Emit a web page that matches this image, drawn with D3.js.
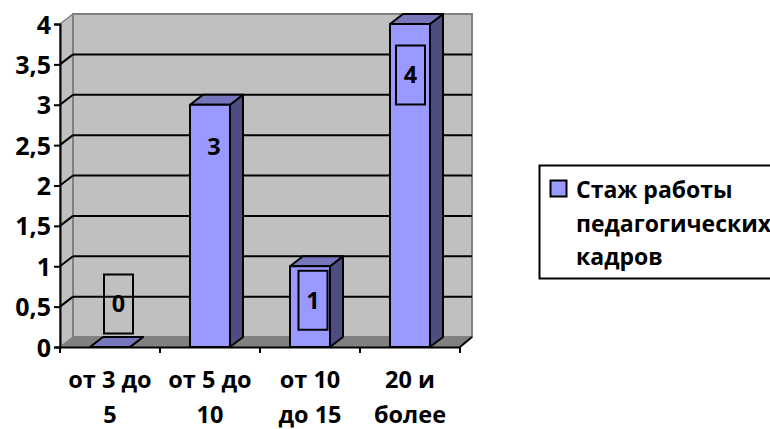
<!DOCTYPE html>
<html>
<head>
<meta charset="utf-8">
<script src="https://cdn.jsdelivr.net/npm/d3@7"></script>
<style>
  html, body { margin: 0; padding: 0; background: #fff; overflow: hidden; }
  text { font-family: "Open Sans", sans-serif; font-weight: 700; fill: #000; }
</style>
</head>
<body>
<div id="viz-body"></div>
<script>
// data
const categories = ["от 3 до 5", "от 5 до 10", "от 10 до 15", "20 и более"];
const categoryLines = [["от 3 до", "5"], ["от 5 до", "10"], ["от 10", "до 15"], ["20 и", "более"]];
const values = [0, 3, 1, 4];
const yTicks = [0, 0.5, 1, 1.5, 2, 2.5, 3, 3.5, 4];
const seriesName = ["Стаж работы", "педагогических", "кадров"];

// layout of the pseudo 3d box
const width = 770, height = 429;
const plot = { left: 60, right: 460, top: 24, bottom: 347 };
const depthX = 13, depthY = -10;
const fontSize = 23.5;
const colors = { wall: "#c0c0c0", floor: "#808080", front: "#9999ff", top: "#7676bd", side: "#4d4d80" };

// where the data labels were dragged to, relative to the bar top and centre
const labelOffset = [
    { dx: 8.5, dy: -43, box: true },
    { dx: 4, dy: 42, box: false },
    { dx: 3, dy: 34, box: true },
    { dx: 0.5, dy: 51, box: true }
];
const labelBox = { width: 29, height: 59 };

const svg = d3.select("#viz-body").append("svg")
    .attr("width", width)
    .attr("height", height)
    .style("display", "block");

const x = d3.scaleBand()
    .domain(categories)
    .range([plot.left, plot.right])
    .paddingInner(0.6)
    .paddingOuter(0.3);
const y = d3.scaleLinear()
    .domain([0, 4])
    .range([plot.bottom, plot.top]);

const poly = pts => pts.map(p => p.join(",")).join(" ");

// left wall, back wall, floor
svg.append("polygon")
    .attr("points", poly([[plot.left, plot.top], [plot.left + depthX, plot.top + depthY],
        [plot.left + depthX, plot.bottom + depthY], [plot.left, plot.bottom]]))
    .attr("fill", colors.wall).attr("stroke", colors.floor).attr("stroke-width", 1.5);
svg.append("rect")
    .attr("x", plot.left + depthX)
    .attr("y", plot.top + depthY)
    .attr("width", plot.right - plot.left - 1)
    .attr("height", plot.bottom - plot.top)
    .attr("fill", colors.wall).attr("stroke", colors.floor).attr("stroke-width", 2);
svg.append("polygon")
    .attr("points", poly([[plot.left, plot.bottom], [plot.left + depthX, plot.bottom + depthY],
        [plot.right + depthX - 1, plot.bottom + depthY], [plot.right, plot.bottom]]))
    .attr("fill", colors.floor);

// gridlines on the back wall and on the left wall
svg.selectAll("line.grid")
    .data(yTicks.filter(d => d > 0 && d < 4))
    .enter().append("line")
    .attr("class", "grid")
    .attr("x1", plot.left + depthX).attr("x2", plot.right + depthX - 1)
    .attr("y1", d => y(d) + depthY).attr("y2", d => y(d) + depthY)
    .attr("stroke", "#000").attr("stroke-width", 2);
svg.selectAll("line.diag")
    .data(yTicks.filter(d => d > 0 && d < 4))
    .enter().append("line")
    .attr("class", "diag")
    .attr("x1", plot.left).attr("x2", plot.left + depthX)
    .attr("y1", d => y(d)).attr("y2", d => y(d) + depthY)
    .attr("stroke", "#000").attr("stroke-width", 2);

// bars
const bars = svg.selectAll("g.bar")
    .data(values)
    .enter().append("g")
    .attr("class", "bar")
    .attr("stroke", "#000")
    .attr("stroke-width", 2)
    .attr("stroke-linejoin", "round");

const barX = i => x(categories[i]);
const bw = x.bandwidth();

bars.append("polygon")
    .attr("fill", colors.side)
    .attr("points", (d, i) => poly([[barX(i) + bw, y(d)], [barX(i) + bw + depthX, y(d) + depthY],
        [barX(i) + bw + depthX, y(0) + depthY], [barX(i) + bw, y(0)]]));
bars.append("polygon")
    .attr("fill", colors.top)
    .attr("points", (d, i) => poly([[barX(i), y(d)], [barX(i) + depthX, y(d) + depthY],
        [barX(i) + bw + depthX, y(d) + depthY], [barX(i) + bw, y(d)]]));
bars.append("rect")
    .attr("fill", colors.front)
    .attr("x", (d, i) => barX(i))
    .attr("y", d => y(d))
    .attr("width", bw)
    .attr("height", d => y(0) - y(d));

// y axis
const yAxis = svg.append("g")
    .attr("transform", "translate(" + plot.left + ",0)")
    .call(d3.axisLeft(y)
        .tickValues(yTicks)
        .tickSize(6)
        .tickPadding(3)
        .tickFormat(d => String(d).replace(".", ",")));
yAxis.selectAll("path, line").attr("stroke", "#000").attr("stroke-width", 2);
yAxis.selectAll("text")
    .attr("font-family", null)
    .style("font-size", (fontSize + 1.5) + "px")
    .attr("dy", "0.36em");

// x axis, labels sit under the band centre, ticks on the band edges
const xAxis = svg.append("g")
    .attr("transform", "translate(0," + plot.bottom + ")")
    .call(d3.axisBottom(x).tickSize(0).tickFormat(""));
xAxis.select("path").attr("stroke", "#000").attr("stroke-width", 2);
xAxis.selectAll("g.tick text").remove();

const edges = d3.range(categories.length + 1).map(i => plot.left + i * x.step());
svg.selectAll("line.xtick")
    .data(edges)
    .enter().append("line")
    .attr("class", "xtick")
    .attr("x1", d => d).attr("x2", d => d)
    .attr("y1", plot.bottom).attr("y2", plot.bottom + 6)
    .attr("stroke", "#000").attr("stroke-width", 2);
svg.append("line")
    .attr("x1", plot.right).attr("y1", plot.bottom)
    .attr("x2", plot.right + depthX - 1).attr("y2", plot.bottom + depthY)
    .attr("stroke", "#000").attr("stroke-width", 2);

svg.selectAll("text.cat")
    .data(categoryLines)
    .enter().append("text")
    .attr("class", "cat")
    .attr("text-anchor", "middle")
    .style("font-size", fontSize + "px")
    .each(function(lines, i) {
        d3.select(this).selectAll("tspan")
            .data(lines)
            .enter().append("tspan")
            .attr("x", barX(i) + bw / 2)
            .attr("y", (d, j) => 388 + j * 35)
            .text(d => d);
    });

// data labels
const labels = svg.selectAll("g.label")
    .data(values)
    .enter().append("g")
    .attr("class", "label")
    .attr("transform", (d, i) => "translate(" + (barX(i) + bw / 2 + labelOffset[i].dx) + "," + (y(d) + labelOffset[i].dy) + ")");
labels.filter((d, i) => labelOffset[i].box).append("rect")
    .attr("x", -labelBox.width / 2)
    .attr("y", -labelBox.height / 2)
    .attr("width", labelBox.width)
    .attr("height", labelBox.height)
    .attr("fill", "none")
    .attr("stroke", "#000")
    .attr("stroke-width", 2);
labels.append("text")
    .attr("text-anchor", "middle")
    .attr("dy", "0.36em")
    .style("font-size", fontSize + "px")
    .text(d => d);

// legend, runs off the right edge like the original
const legend = svg.append("g");
legend.append("rect")
    .attr("x", 539.5).attr("y", 165.5)
    .attr("width", 240).attr("height", 113)
    .attr("fill", "#fff").attr("stroke", "#000").attr("stroke-width", 2);
legend.append("rect")
    .attr("x", 550.5).attr("y", 180.5)
    .attr("width", 16).attr("height", 16)
    .attr("fill", colors.front).attr("stroke", "#000").attr("stroke-width", 2);
legend.selectAll("text")
    .data(seriesName)
    .enter().append("text")
    .attr("x", 576)
    .attr("y", (d, i) => 198 + i * 33.5)
    .style("font-size", (fontSize - 0.5) + "px")
    .text(d => d);
</script>
</body>
</html>
